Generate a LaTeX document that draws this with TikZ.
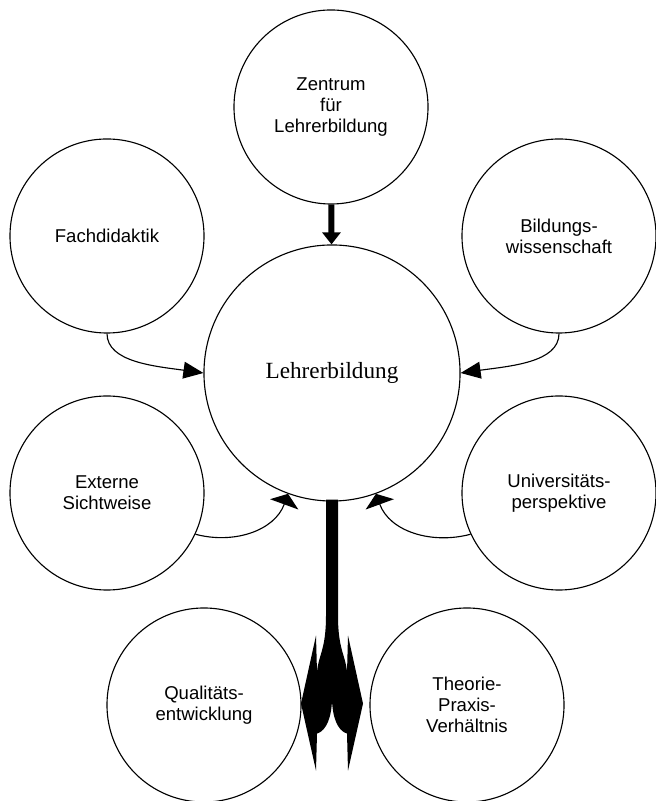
\documentclass[tikz,border=0pt]{standalone}
\usepackage{fontspec}
\setmainfont{Liberation Sans}
\newfontfamily\serifschrift{Liberation Serif}
\usetikzlibrary{arrows.meta}

\begin{document}
\begin{tikzpicture}[x=0.025cm, y=0.025cm,
            kreis/.style={circle, draw, line width=0.8pt, minimum size=4.85cm, inner sep=0pt,
                align=center, font=\fontsize{13.2}{15}\selectfont},
            pfeil/.style={line width=0.8pt, -{Triangle[length=0.5cm, width=0.42cm]}},
            pfeilhoch/.style={line width=0.8pt, -{Triangle[length=0.28cm, width=0.75cm]}}]
            % Rahmen (656 x 801)
            \useasboundingbox (0,0) rectangle (656,801);

            % Mitte
            \node[kreis, minimum size=6.4cm, font=\serifschrift\fontsize{16.5}{19}\selectfont]
                (lehrer) at (332,428) {Lehrerbildung};

            % Kreise ringsum
            \node[kreis] (zentrum) at (331,694) {Zentrum\\für\\Lehrerbildung};
            \node[kreis] (fach) at (107,565) {Fachdidaktik};
            \node[kreis] (bildung) at (559,565) {Bildungs-\\wissenschaft};
            \node[kreis] (extern) at (107,308) {Externe\\Sichtweise};
            \node[kreis] (uni) at (559,308) {Universitäts-\\perspektive};
            \node[kreis] (qual) at (204,96) {Qualitäts-\\entwicklung};
            \node[kreis] (theorie) at (467,96) {Theorie-\\Praxis-\\Verhältnis};

            % Dicker Pfeil von oben
            \draw[line width=0.15cm, -{Triangle[length=0.3cm, width=0.45cm]}] (zentrum) -- (lehrer);

            % Gebogene Pfeile
            \draw[pfeil] (fach.south) to[out=-90, in=172, out looseness=0.7, in looseness=1.2] (lehrer.west);
            \draw[pfeil] (bildung.south) to[out=-90, in=8, out looseness=0.7, in looseness=1.2] (lehrer.east);
            \draw[pfeilhoch] (extern.-25) to[out=-15, in=-110] (lehrer.250);
            \draw[pfeilhoch] (uni.205) to[out=195, in=-70] (lehrer.290);

            % Geteilter Pfeil nach unten
            \begin{scope}[shift={(lehrer.south)}]
                \fill (-6,2) -- (-6,-114) .. controls (-6,-149) and (-14,-154) .. (-15,-171)
                    -- (-16,-134) -- (-31,-202) -- (-16,-269) -- (-15,-232)
                    .. controls (-5,-229) and (0,-214) .. (0,-196)
                    .. controls (0,-214) and (5,-229) .. (15,-232)
                    -- (16,-269) -- (31,-202) -- (16,-134) -- (15,-171)
                    .. controls (14,-154) and (6,-149) .. (6,-114) -- (6,2) -- cycle;
            \end{scope}
        \end{tikzpicture}
\end{document}
